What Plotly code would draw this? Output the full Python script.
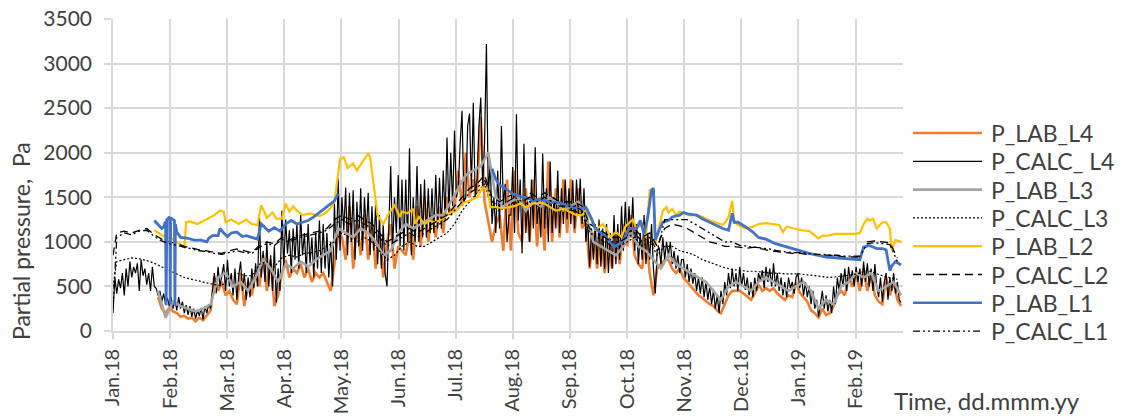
import pandas as pd
import plotly.graph_objects as go

# ---------------- DATA ----------------
# P_CALC_ L4 : daily values, one list per month
calc_l4_jan18 = [200, 600, 420, 580, 480, 650, 400, 700, 500, 780, 600, 720, 650, 760, 450, 800,
                 620, 700, 520, 650, 450, 720, 500, 480, 400, 450, 330, 420, 300, 370, 280]
calc_l4_feb18 = [380, 250, 350, 230, 380, 250, 330, 200, 290, 180, 280, 160, 250, 140, 230, 170,
                 260, 130, 280, 200, 300, 250, 450, 650, 420, 720, 500, 650]
calc_l4_mar18 = [750, 450, 800, 500, 650, 400, 700, 350, 620, 780, 450, 650, 350, 600, 380, 700,
                 480, 760, 500, 1300, 600, 900, 550, 1000, 500, 850, 450, 950, 320, 700, 450]
calc_l4_apr18 = [1350, 700, 1250, 870, 1130, 650, 1150, 800, 1200, 700, 1300, 850, 1100, 650, 1200,
                 760, 1050, 600, 1100, 700, 1240, 650, 1200, 700, 1100, 600, 1000, 500, 1430, 800]
calc_l4_may18 = [1710, 900, 1500, 1130, 1610, 850, 1550, 1000, 1580, 800, 1450, 950, 1600, 900, 1500,
                 1100, 1550, 850, 1400, 900, 1450, 750, 1300, 700, 1200, 650, 500, 1200, 1850, 900, 1500]
calc_l4_jun18 = [1100, 1750, 950, 1700, 900, 1700, 1000, 2050, 850, 1500, 1000, 1850, 1000, 1650, 1050,
                 1700, 1050, 1600, 1100, 1600, 1100, 1750, 1150, 1720, 1150, 1800, 1250, 2170, 1300, 2000]
calc_l4_jul18 = [1400, 2250, 1500, 1600, 2100, 2470, 1450, 1500, 2300, 2440, 1600, 2560, 1500, 1700, 2300,
                 2620, 1600, 2100, 3220, 1500, 1900, 1200, 1500, 1100, 1800, 1150, 2300, 1400, 1650, 1000, 1300]
calc_l4_aug18 = [1300, 1840, 1100, 2430, 1240, 1700, 870, 2100, 1100, 1450, 1000, 1700, 1150, 2060, 1200,
                 1450, 1050, 1990, 1150, 1600, 1000, 1900, 1100, 1500, 1150, 1800, 1100, 1600, 1200, 1700, 1250]
calc_l4_sep18 = [1600, 1200, 1690, 1150, 1700, 1300, 1710, 1200, 1600, 1000, 1250, 720, 1150, 800, 1200,
                 750, 1250, 720, 1150, 700, 1200, 650, 1100, 700, 1300, 750, 1200, 800, 1400, 900]
calc_l4_oct18 = [1450, 1000, 1400, 1050, 1500, 900, 1200, 750, 1100, 800, 1300, 750, 1100, 800, 1200,
                 700, 420, 900, 940, 750, 1050, 800, 1000, 850, 1000, 750, 900, 700, 850, 650, 800]
calc_l4_nov18 = [800, 600, 750, 550, 700, 530, 650, 450, 600, 420, 600, 380, 550, 350, 500,
                 300, 450, 250, 400, 200, 450, 300, 550, 400, 650, 480, 700, 500, 650, 450]
calc_l4_dec18 = [720, 500, 650, 460, 600, 400, 550, 380, 600, 450, 650, 570, 680, 480, 720, 550,
                 700, 500, 760, 500, 650, 450, 600, 400, 550, 380, 600, 480, 550, 420, 600]
calc_l4_jan19 = [650, 480, 600, 400, 550, 380, 500, 300, 450, 250, 350, 160, 300, 450, 250, 400,
                 220, 350, 200, 500, 300, 600, 450, 650, 500, 700, 450, 720, 550, 680, 500]
calc_l4_feb19 = [720, 550, 700, 500, 780, 550, 760, 500, 700, 450, 750, 500, 380, 600, 330, 550,
                 650, 350, 600, 450, 650, 420, 550, 350, 320]

# P_LAB_L4 : one value every 2 days, one list per month
lab_l4_jan18 = [380, 250, 200, 260]
lab_l4_feb18 = [220, 200, 160, 170, 140, 150, 110, 150, 120, 180, 230, 600, 450, 550]
lab_l4_mar18 = [400, 450, 350, 300, 650, 280, 550, 400, 650, 500, 850, 450, 800, 280, 400]
lab_l4_apr18 = [650, 800, 600, 700, 650, 750, 600, 700, 550, 650, 600, 650, 550, 450, 750]
lab_l4_may18 = [1100, 1050, 800, 1400, 700, 1200, 850, 1300, 800, 1200, 700, 1100, 600, 1000, 1200, 700]
lab_l4_jun18 = [950, 900, 850, 1100, 800, 1400, 950, 1500, 1000, 1300, 1050, 1400, 1100, 1500, 1300]
lab_l4_jul18 = [1400, 1800, 1400, 2000, 1500, 1700, 1550, 2400, 1450, 1200, 1000, 1200, 1300, 900, 1700]
lab_l4_aug18 = [900, 1800, 1100, 1000, 1600, 1000, 1700, 950, 1500, 900, 1900, 1000, 1600, 1050, 1700, 1100]
lab_l4_sep18 = [1700, 1100, 1600, 1150, 1250, 700, 1100, 700, 1100, 650, 1000, 700, 1100, 750, 1200]
lab_l4_oct18 = [950, 1300, 850, 750, 700, 1100, 650, 400, 700, 750, 800, 800, 700, 650, 700]
lab_l4_nov18 = [600, 550, 500, 450, 400, 370, 330, 300, 280, 230, 200, 300, 400, 450, 450]
lab_l4_dec18 = [450, 420, 380, 350, 420, 520, 450, 480, 450, 480, 420, 380, 350, 400, 380, 550]
lab_l4_jan19 = [430, 380, 330, 230, 200, 150, 250, 180, 200, 280, 400, 450, 400, 600, 500]
lab_l4_feb19 = [650, 450, 700, 450, 650, 400, 330, 300, 600, 400, 550, 350, 280]

# P_LAB_L3 : one value every 4 days starting 2018-01-25
lab_l3_values = [
    450, 150,
    330, 280, 250, 220, 250, 300, 600,
    650, 500, 550, 450, 600, 800, 700, 550,
    750, 700, 780, 720, 800, 850, 900,
    1150, 1100, 1050, 1150, 1100, 1000, 850, 900,
    1100, 1200, 1150, 1200, 1250, 1300, 1300, 1450,
    1600, 1750, 1800, 1850, 2000, 1500, 1400,
    1450, 1500, 1350, 1450, 1400, 1500, 1450, 1350,
    1400, 1450, 1300, 1000, 950, 900, 850, 950,
    1100, 950, 900, 800, 700, 850, 750,
    700, 650, 600, 550, 450, 350, 500, 550,
    500, 450, 550, 600, 550, 500, 450, 500,
    550, 450, 250, 350, 300, 500, 550,
    650, 600, 650, 450, 500, 550, 400,
]

# P_CALC_L3, P_CALC_L2, P_CALC_L1 : 2018-01-01, then every 4 days from 2018-01-03
calc_l3_values = [
    500,
    780, 800, 820, 810, 790, 760, 720, 680,
    640, 600, 580, 560, 540, 520, 510,
    600, 650, 620, 620, 750, 780, 720,
    820, 850, 830, 870, 880, 900, 950, 1000,
    1100, 1050, 1000, 1050, 1000, 900, 800, 850,
    950, 1000, 950, 950, 1000, 1050, 1100,
    1200, 1350, 1450, 1550, 1650, 1400, 1350, 1400,
    1450, 1400, 1450, 1400, 1450, 1400, 1350, 1350,
    1350, 1300, 1100, 1050, 1000, 950, 950,
    1000, 1050, 950, 1000, 850, 950, 950, 900,
    880, 850, 800, 770, 740, 710, 690,
    680, 670, 670, 660, 650, 650, 640, 640,
    640, 630, 620, 610, 600, 610, 620, 630,
    650, 680, 650, 620, 600, 580,
]
calc_l2_values = [
    850,
    1100, 1120, 1100, 1130, 1150, 1080, 1030, 1000,
    980, 950, 930, 910, 900, 880, 870,
    900, 920, 900, 880, 960, 1000, 980,
    1050, 1020, 1060, 1080, 1100, 1120, 1150, 1250,
    1300, 1250, 1300, 1250, 1200, 1100, 1000, 1050,
    1100, 1150, 1100, 1150, 1200, 1250, 1300,
    1400, 1500, 1600, 1650, 1750, 1500, 1450, 1500,
    1550, 1500, 1550, 1500, 1550, 1500, 1450, 1450,
    1450, 1400, 1200, 1150, 1100, 1050, 1050,
    1100, 1150, 1050, 1100, 950, 1150, 1200, 1180,
    1150, 1100, 1050, 1000, 980, 950, 950,
    940, 930, 940, 920, 900, 890, 880, 870,
    870, 860, 860, 850, 850, 840, 830, 830,
    830, 1000, 1010, 1000, 990, 820,
]
calc_l1_values = [
    250,
    1050, 1100, 1080, 1120, 1130, 1060, 1010, 980,
    960, 940, 920, 900, 890, 870, 860,
    880, 900, 880, 870, 940, 980, 960,
    1030, 1000, 1040, 1060, 1080, 1100, 1130, 1200,
    1250, 1200, 1250, 1200, 1150, 1050, 950, 1000,
    1050, 1100, 1050, 1100, 1150, 1200, 1250,
    1350, 1450, 1550, 1600, 1700, 1450, 1400, 1450,
    1500, 1450, 1500, 1450, 1500, 1450, 1400, 1400,
    1400, 1350, 1150, 1100, 1050, 1000, 1000,
    1050, 1100, 1000, 1050, 900, 1250, 1250, 1250,
    1250, 1200, 1150, 1100, 1050, 1000, 1000,
    960, 950, 940, 930, 920, 900, 890, 880,
    880, 870, 860, 860, 850, 850, 840, 840,
    840, 980, 990, 980, 970, 780,
]

# P_LAB_L2
lab_l2_dates = [
    "2018-01-23", "2018-01-25", "2018-01-27", "2018-01-29", "2018-02-01", "2018-02-04", "2018-02-07",
    "2018-02-08", "2018-02-09", "2018-02-11", "2018-02-15", "2018-02-20", "2018-02-24", "2018-02-27",
    "2018-03-01", "2018-03-02", "2018-03-05", "2018-03-09", "2018-03-13", "2018-03-16", "2018-03-19",
    "2018-03-21", "2018-03-24", "2018-03-27", "2018-03-29", "2018-04-01", "2018-04-03", "2018-04-05",
    "2018-04-07", "2018-04-09", "2018-04-12", "2018-04-16", "2018-04-21", "2018-04-24", "2018-04-27",
    "2018-04-29", "2018-05-02", "2018-05-04", "2018-05-06", "2018-05-09", "2018-05-11", "2018-05-14",
    "2018-05-17", "2018-05-18", "2018-05-21", "2018-05-22", "2018-05-25", "2018-05-28", "2018-05-31",
    "2018-06-03", "2018-06-04", "2018-06-07", "2018-06-10", "2018-06-11", "2018-06-13", "2018-06-16",
    "2018-06-19", "2018-06-21", "2018-06-24", "2018-06-27", "2018-06-29", "2018-07-03", "2018-07-06",
    "2018-07-10", "2018-07-14", "2018-07-17", "2018-07-20", "2018-07-21", "2018-07-24", "2018-07-28",
    "2018-07-31", "2018-08-03", "2018-08-06", "2018-08-09", "2018-08-13", "2018-08-18", "2018-08-22",
    "2018-08-25", "2018-08-29", "2018-09-01", "2018-09-05", "2018-09-08", "2018-09-10", "2018-09-13",
    "2018-09-15", "2018-09-19", "2018-09-21", "2018-09-23", "2018-09-26", "2018-09-29", "2018-10-01",
    "2018-10-05", "2018-10-07", "2018-10-10", "2018-10-12", "2018-10-14", "2018-10-16", "2018-10-17",
    "2018-10-19", "2018-10-21", "2018-10-23", "2018-10-24", "2018-10-26", "2018-10-28", "2018-10-30",
    "2018-11-01", "2018-11-04", "2018-11-08", "2018-11-11", "2018-11-15", "2018-11-18", "2018-11-22",
    "2018-11-24", "2018-11-25", "2018-11-27", "2018-11-28", "2018-11-30", "2018-12-04", "2018-12-08",
    "2018-12-11", "2018-12-15", "2018-12-19", "2018-12-22", "2018-12-24", "2018-12-26", "2018-12-30",
    "2019-01-03", "2019-01-07", "2019-01-10", "2019-01-12", "2019-01-14", "2019-01-17", "2019-01-21",
    "2019-01-26", "2019-02-01", "2019-02-03", "2019-02-05", "2019-02-07", "2019-02-08", "2019-02-10",
    "2019-02-12", "2019-02-15", "2019-02-17", "2019-02-19", "2019-02-20", "2019-02-22", "2019-02-25",
]
lab_l2_values = [
    1130, 1100, 1080, 1050, 1040, 1000, 960,
    940, 1220, 1230, 1200, 1260, 1300, 1350,
    1340, 1220, 1250, 1200, 1250, 1200, 1190,
    1410, 1270, 1330, 1260, 1260, 1430, 1340,
    1400, 1350, 1300, 1320, 1290, 1320, 1380,
    1450, 1930, 1950, 1830, 1880, 1800, 1900,
    1990, 1950, 1460, 1300, 1200, 1320, 1410,
    1280, 1340, 1320, 1370, 1200, 1280, 1200,
    1240, 1220, 1240, 1280, 1320, 1350, 1430,
    1460, 1500, 1610, 1580, 1390, 1390, 1380,
    1390, 1400, 1430, 1390, 1430, 1440, 1390,
    1350, 1370, 1340, 1300, 1300, 1350, 1240,
    1130, 1200, 1150, 1050, 1110, 1050, 1170,
    1250, 1150, 1200, 1050, 1580, 1600, 980,
    1150, 1350, 1390, 1330, 1370, 1300, 1340,
    1320, 1300, 1300, 1280, 1240, 1220, 1190,
    1240, 1280, 1460, 1240, 1190, 1150, 1170,
    1200, 1210, 1200, 1190, 1110, 1170, 1150,
    1130, 1120, 1070, 1040, 1070, 1070, 1090,
    1090, 1090, 1100, 1200, 1260, 1240, 1260,
    1150, 1220, 1220, 1150, 905, 1020, 1000,
]

# P_LAB_L1 (gap between May and late July)
lab_l1_dates = [
    "2018-01-23", "2018-01-25", "2018-01-27", "2018-01-28", "2018-01-29 00:00", "2018-01-29 08:00",
    "2018-01-29 16:00", "2018-01-31 06:00", "2018-01-31 12:00", "2018-01-31 18:00", "2018-02-02 18:00",
    "2018-02-03 00:00", "2018-02-03 06:00", "2018-02-04", "2018-02-06", "2018-02-10", "2018-02-13",
    "2018-02-17", "2018-02-20", "2018-02-21", "2018-02-23", "2018-02-26", "2018-02-27", "2018-03-01",
    "2018-03-03", "2018-03-05", "2018-03-08", "2018-03-11", "2018-03-13", "2018-03-16", "2018-03-19",
    "2018-03-21", "2018-03-23", "2018-03-25", "2018-03-28", "2018-03-31", "2018-04-03", "2018-04-06",
    "2018-04-09", "2018-04-12", "2018-04-15", "2018-04-18", "2018-04-21", "2018-04-24", "2018-04-26",
    "2018-04-29", "2018-05-01", "2018-05-02", "2018-07-22", "2018-07-24", "2018-07-26", "2018-07-30",
    "2018-08-02", "2018-08-06", "2018-08-09", "2018-08-13", "2018-08-16", "2018-08-20", "2018-08-23",
    "2018-08-27", "2018-08-30", "2018-09-03", "2018-09-07", "2018-09-10", "2018-09-13", "2018-09-15",
    "2018-09-18", "2018-09-21", "2018-09-23", "2018-09-25", "2018-09-28", "2018-09-30", "2018-10-03",
    "2018-10-07", "2018-10-09", "2018-10-11", "2018-10-13", "2018-10-15", "2018-10-16", "2018-10-17",
    "2018-10-19", "2018-10-21", "2018-10-24", "2018-10-26", "2018-10-30", "2018-11-01", "2018-11-04",
    "2018-11-08", "2018-11-11", "2018-11-15", "2018-11-18", "2018-11-22", "2018-11-25", "2018-11-27",
    "2018-11-28", "2018-11-30", "2018-12-04", "2018-12-08", "2018-12-11", "2018-12-15", "2018-12-20",
    "2018-12-29", "2019-01-07", "2019-01-16", "2019-01-25", "2019-02-03", "2019-02-05", "2019-02-08",
    "2019-02-12", "2019-02-15", "2019-02-17", "2019-02-19", "2019-02-20", "2019-02-22", "2019-02-25",
]
lab_l1_values = [
    1240, 1190, 1150, 1170, 1230, 290,
    1250, 1280, 300, 1270, 1240,
    290, 1200, 1110, 1050, 1040, 1020,
    1020, 1000, 1040, 1070, 1070, 1150, 1100,
    1060, 1100, 1110, 1060, 1070, 1050, 1030,
    1200, 1160, 1120, 1160, 1120, 1200, 1240,
    1200, 1220, 1240, 1280, 1330, 1370, 1410,
    1460, 1540, None, 1820, 1700, 1640, 1580,
    1540, 1510, 1500, 1460, 1480, 1460, 1440,
    1440, 1410, 1390, 1370, 1390, 1260, 1150,
    1100, 1050, 1000, 940, 980, 1020, 1150,
    1150, 1240, 1090, 1280, 1580, 1600, 1020,
    1130, 1220, 1240, 1280, 1300, 1330, 1310,
    1300, 1260, 1220, 1190, 1150, 1130, 1320,
    1220, 1220, 1170, 1110, 1050, 1030, 980,
    925, 870, 830, 815, 800, 940, 960,
    925, 925, 910, 680, 730, 780, 740,
]

tick_labels = ["Jan.18", "Feb.18", "Mar.18", "Apr.18", "May.18", "Jun.18", "Jul.18",
               "Aug.18", "Sep.18", "Oct.18", "Nov.18", "Dec.18", "Jan.19", "Feb.19"]


# ---------------- DATES ----------------
def chunked(chunks, step):
    xs, ys = [], []
    for start, vals in chunks:
        xs += list(pd.date_range(start, periods=len(vals), freq=step))
        ys += list(vals)
    return xs, ys


calc_l4_x, calc_l4_y = chunked([
    ("2018-01-01", calc_l4_jan18), ("2018-02-01", calc_l4_feb18), ("2018-03-01", calc_l4_mar18),
    ("2018-04-01", calc_l4_apr18), ("2018-05-01", calc_l4_may18), ("2018-06-01", calc_l4_jun18),
    ("2018-07-01", calc_l4_jul18), ("2018-08-01", calc_l4_aug18), ("2018-09-01", calc_l4_sep18),
    ("2018-10-01", calc_l4_oct18), ("2018-11-01", calc_l4_nov18), ("2018-12-01", calc_l4_dec18),
    ("2019-01-01", calc_l4_jan19), ("2019-02-01", calc_l4_feb19)], "D")

lab_l4_x, lab_l4_y = chunked([
    ("2018-01-25", lab_l4_jan18), ("2018-02-02", lab_l4_feb18), ("2018-03-02", lab_l4_mar18),
    ("2018-04-01", lab_l4_apr18), ("2018-05-01", lab_l4_may18), ("2018-06-02", lab_l4_jun18),
    ("2018-07-02", lab_l4_jul18), ("2018-08-01", lab_l4_aug18), ("2018-09-02", lab_l4_sep18),
    ("2018-10-02", lab_l4_oct18), ("2018-11-01", lab_l4_nov18), ("2018-12-01", lab_l4_dec18),
    ("2019-01-02", lab_l4_jan19), ("2019-02-01", lab_l4_feb19)], "2D")

lab_grid_dates = list(pd.date_range("2018-01-25", periods=len(lab_l3_values), freq="4D"))
calc_grid_dates = [pd.Timestamp("2018-01-01")] + list(
    pd.date_range("2018-01-03", periods=len(calc_l3_values) - 1, freq="4D"))
# evenly spaced month ticks (as in the original chart)
tick_vals = [pd.Timestamp("2018-01-01") + pd.Timedelta(days=30.44 * i) for i in range(len(tick_labels))]

# ---------------- STYLE ----------------
ORANGE = "#ED7D31"
GRAY = "#A5A5A5"
YELLOW = "#FFC000"
BLUE = "#4472C4"
BLACK = "#000000"
GRID = "#D9D9D9"
TXT = "#404040"
FONT = "Lato"

series = [
    ("P_LAB_L4", lab_l4_x, lab_l4_y, ORANGE, 2.6, "solid"),
    ("P_CALC_ L4", calc_l4_x, calc_l4_y, BLACK, 1.2, "solid"),
    ("P_LAB_L3", lab_grid_dates, lab_l3_values, GRAY, 2.6, "solid"),
    ("P_CALC_L3", calc_grid_dates, calc_l3_values, BLACK, 1.2, "2px,2px"),
    ("P_LAB_L2", lab_l2_dates, lab_l2_values, YELLOW, 2.2, "solid"),
    ("P_CALC_L2", calc_grid_dates, calc_l2_values, BLACK, 1.3, "8px,5px"),
    ("P_LAB_L1", lab_l1_dates, lab_l1_values, BLUE, 2.8, "solid"),
    ("P_CALC_L1", calc_grid_dates, calc_l1_values, BLACK, 1.3, "7px,3px,2px,3px,2px,3px"),
]

fig = go.Figure()
for name, xs, ys, color, w, dash in series:
    fig.add_trace(go.Scatter(x=list(xs), y=ys, name=name, mode="lines",
                             line=dict(color=color, width=w, dash=dash),
                             connectgaps=False, showlegend=False))

# geometry of the plot area in pixels
W, H = 1121, 416
L, R, T, B = 113, 903, 19, 331


def px_x(px):
    return (px - L) / (R - L)


def px_y(py):
    return (B - py) / (B - T)


shapes = []
annotations = []
for i, (name, xs, ys, color, w, dash) in enumerate(series):
    yy = px_y(133 + 28.3 * i)
    shapes.append(dict(type="line", xref="paper", yref="paper",
                       x0=px_x(913), x1=px_x(982), y0=yy, y1=yy,
                       line=dict(color=color, width=min(w, 2.6), dash=dash)))
    annotations.append(dict(text=name, xref="paper", yref="paper", x=px_x(989), y=yy,
                            xanchor="left", yanchor="middle", showarrow=False,
                            font=dict(family=FONT, size=23, color=TXT)))

annotations.append(dict(text="Partial pressure,  Pa", xref="paper", yref="paper",
                        x=px_x(21), y=px_y(241), textangle=-90, showarrow=False,
                        xanchor="center", yanchor="middle",
                        font=dict(family=FONT, size=23, color=TXT)))
annotations.append(dict(text="Time, dd.mmm.yy", xref="paper", yref="paper",
                        x=px_x(892), y=px_y(400), showarrow=False,
                        xanchor="left", yanchor="middle",
                        font=dict(family=FONT, size=24, color=TXT)))

fig.update_layout(
    width=W, height=H, autosize=False,
    margin=dict(l=L, r=W - R, t=T, b=H - B, pad=0),
    paper_bgcolor="white", plot_bgcolor="white",
    shapes=shapes, annotations=annotations,
    showlegend=False,
    xaxis=dict(type="date", range=["2018-01-01", "2019-02-26"], automargin=False,
               tickmode="array", tickvals=tick_vals, ticktext=tick_labels,
               tickangle=-90, showgrid=True, gridcolor=GRID, gridwidth=1.6,
               ticks="outside", ticklen=6, tickcolor=GRID, tickwidth=1.6,
               showline=True, linecolor=GRID, linewidth=1.6, zeroline=False,
               ticklabelstandoff=2,
               tickfont=dict(family=FONT, size=20, color=TXT)),
    yaxis=dict(range=[0, 3500], tickmode="linear", tick0=0, dtick=500, automargin=False,
               showgrid=True, gridcolor=GRID, gridwidth=1.6,
               ticks="outside", ticklen=7, tickcolor=GRID, tickwidth=1.6,
               showline=True, linecolor=GRID, linewidth=1.6, zeroline=False,
               ticklabelstandoff=8,
               tickfont=dict(family=FONT, size=21, color=TXT)),
)

fig.write_html("out.html")
